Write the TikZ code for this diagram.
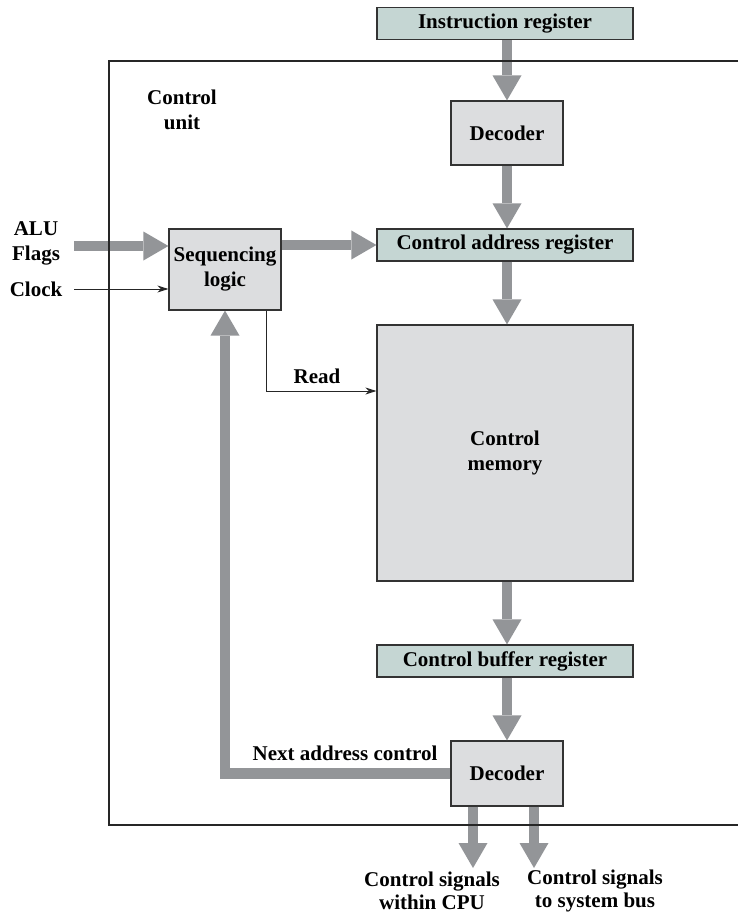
\documentclass[tikz,border=0pt]{standalone}
\usepackage{fontspec}
\setmainfont{Liberation Serif}
\usepackage{xcolor}
\usetikzlibrary{positioning}
\usetikzlibrary{arrows.meta}
\definecolor{boxgray}{RGB}{220,221,223}
\definecolor{regteal}{RGB}{197,214,211}
\definecolor{busgray}{RGB}{147,149,152}

\begin{document}
\begin{tikzpicture}[x=1pt,y=-1pt,
    font=\bfseries\fontsize{21}{25}\selectfont,
    box/.style={draw=black!80,line width=1.2pt,fill=boxgray,align=center,inner sep=0pt},
    reg/.style={box,fill=regteal,minimum width=256pt,minimum height=32pt},
    bus/.style={draw=busgray,line width=10.5pt,-{Triangle[width=29pt,length=25pt,line width=0pt]}},
    wire/.style={draw=black!85,line width=1pt,-{Stealth[length=11pt,width=7pt]}},
    lbl/.style={align=center,inner sep=0pt}]
    \useasboundingbox (0,0) rectangle (738,917);

    \node[reg] (ir) at (505,23.5) {Instruction register};
    \node[box,minimum width=112pt,minimum height=64pt] (dec1) at (507,133) {Decoder};
    \node[reg] (car) at (505,245) {Control address register};
    \node[box,minimum width=112pt,minimum height=81pt] (seq) at (225,269.5) {Sequencing\\logic};
    \node[box,minimum width=256pt,minimum height=256pt] (mem) at (505,453) {Control\\memory};
    \node[reg] (cbr) at (505,661) {Control buffer register};
    \node[box,minimum width=112pt,minimum height=65pt] (dec2) at (507,773.5) {Decoder};

    \coordinate (alu) at (74,246);
    \coordinate (clk) at (74,289);
    \coordinate (rd) at (266,391);
    \coordinate (o1) at (473,868);
    \coordinate (o2) at (534,868);

    \draw[bus] (ir.south -| dec1.north) -- (dec1.north);
    \draw[bus] (dec1.south) -- (car.north -| dec1.south);
    \draw[bus] (car.south -| dec1.south) -- (mem.north -| dec1.south);
    \draw[bus] (mem.south -| dec1.south) -- (cbr.north -| dec1.south);
    \draw[bus] (cbr.south -| dec2.north) -- (dec2.north);
    \draw[bus] (alu) -- (alu -| seq.west);
    \draw[bus] (car.west -| seq.east) -- (car.west);
    \draw[bus] (dec2.west) -| (seq.south);
    \draw[bus] (dec2.south -| o1) -- (o1);
    \draw[bus] (dec2.south -| o2) -- (o2);

    \draw[wire] (clk) -- (clk -| seq.west);
    \draw[wire] (seq.south -| rd) -- (rd) -- (rd -| mem.west);

    \draw[line width=2.2pt,black!85] (738,61) -- (109,61) -- (109,825) -- (738,825);

    \node[lbl] (flags) at (36,243) {ALU\\Flags};
    \node[lbl] (clock) at (36,289) {Clock};
    \node[lbl] (cu) at (182,110) {Control\\unit};
    \node[lbl] (read) at (317,376) {Read};
    \node[lbl] (nac) at (345,753) {Next address control};
    \node[lbl] (sig1) at (432,891) {Control signals\\[-2pt]within CPU};
    \node[lbl] (sig2) at (595,891) {Control signals\\[-2pt]to system bus};
\end{tikzpicture}
\end{document}
